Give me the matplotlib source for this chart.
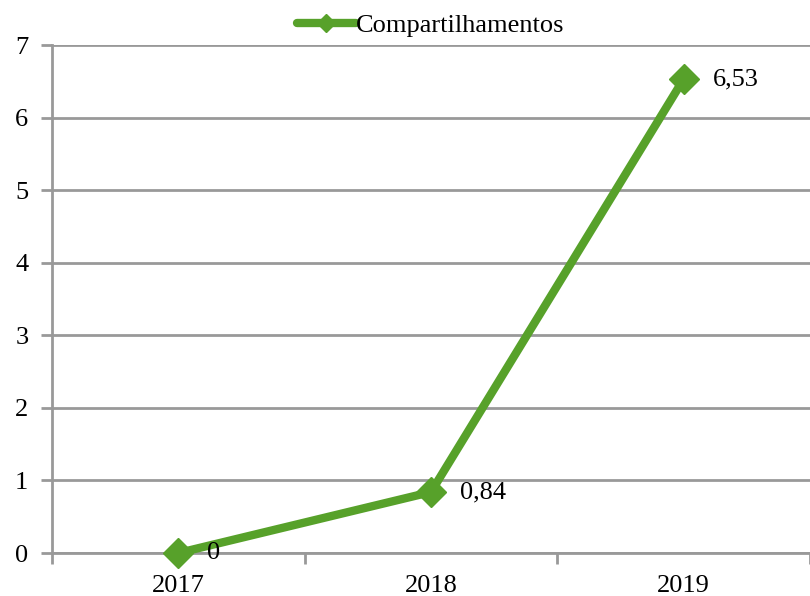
import numpy as np
import matplotlib
matplotlib.use('Agg')
import matplotlib.pyplot as plt

# data
years = ['2017', '2018', '2019']
shares = [0, 0.84, 6.53]
share_labels = ['0', '0,84', '6,53']
series_name = 'Compartilhamentos'

green = '#57A12A'
grid_gray = '#999999'
fs = 19

plt.rcParams['font.family'] = ['Liberation Serif', 'DejaVu Serif']

fig = plt.figure(figsize=(8.1, 5.96), dpi=100)
ax = fig.add_axes([52/810, 1-553/596, 1-52/810, (553-45)/596])

x = np.arange(len(years))
ax.plot(x, shares, color=green, lw=6, marker='D', ms=15, mec=green, mfc=green,
        solid_capstyle='round', label=series_name, zorder=3, clip_on=False)

for xi, yi, lab in zip(x, shares, share_labels):
    ax.annotate(lab, (xi, yi), xytext=(21, 0), textcoords='offset points',
                ha='left', va='center', fontsize=fs, color='black')

ax.set_xlim(-0.5, len(years) - 0.5)
ax.set_ylim(0, 7)
ax.set_yticks(range(0, 8))
ax.yaxis.grid(True, color=grid_gray, lw=2)
ax.set_axisbelow(True)

ax.set_xticks(x)
ax.set_xticklabels(years)
ax.set_xticks(np.arange(-0.5, len(years)), minor=True)
ax.tick_params(axis='x', which='major', length=0, pad=16, labelsize=fs)
ax.tick_params(axis='x', which='minor', length=8, width=2, color=grid_gray, direction='out')
ax.tick_params(axis='y', length=8, width=2, color=grid_gray, pad=9, labelsize=fs)

for s in ['top', 'right']:
    ax.spines[s].set_visible(False)
for s in ['left', 'bottom']:
    ax.spines[s].set_color(grid_gray)
    ax.spines[s].set_linewidth(2)

ax.legend(loc='lower center', bbox_to_anchor=(0.5, 1.0), frameon=False,
          fontsize=fs, handlelength=2.2, handletextpad=0.02, borderaxespad=0.0,
          borderpad=0.3, markerscale=0.6)

fig.savefig('out.png', dpi=100)
